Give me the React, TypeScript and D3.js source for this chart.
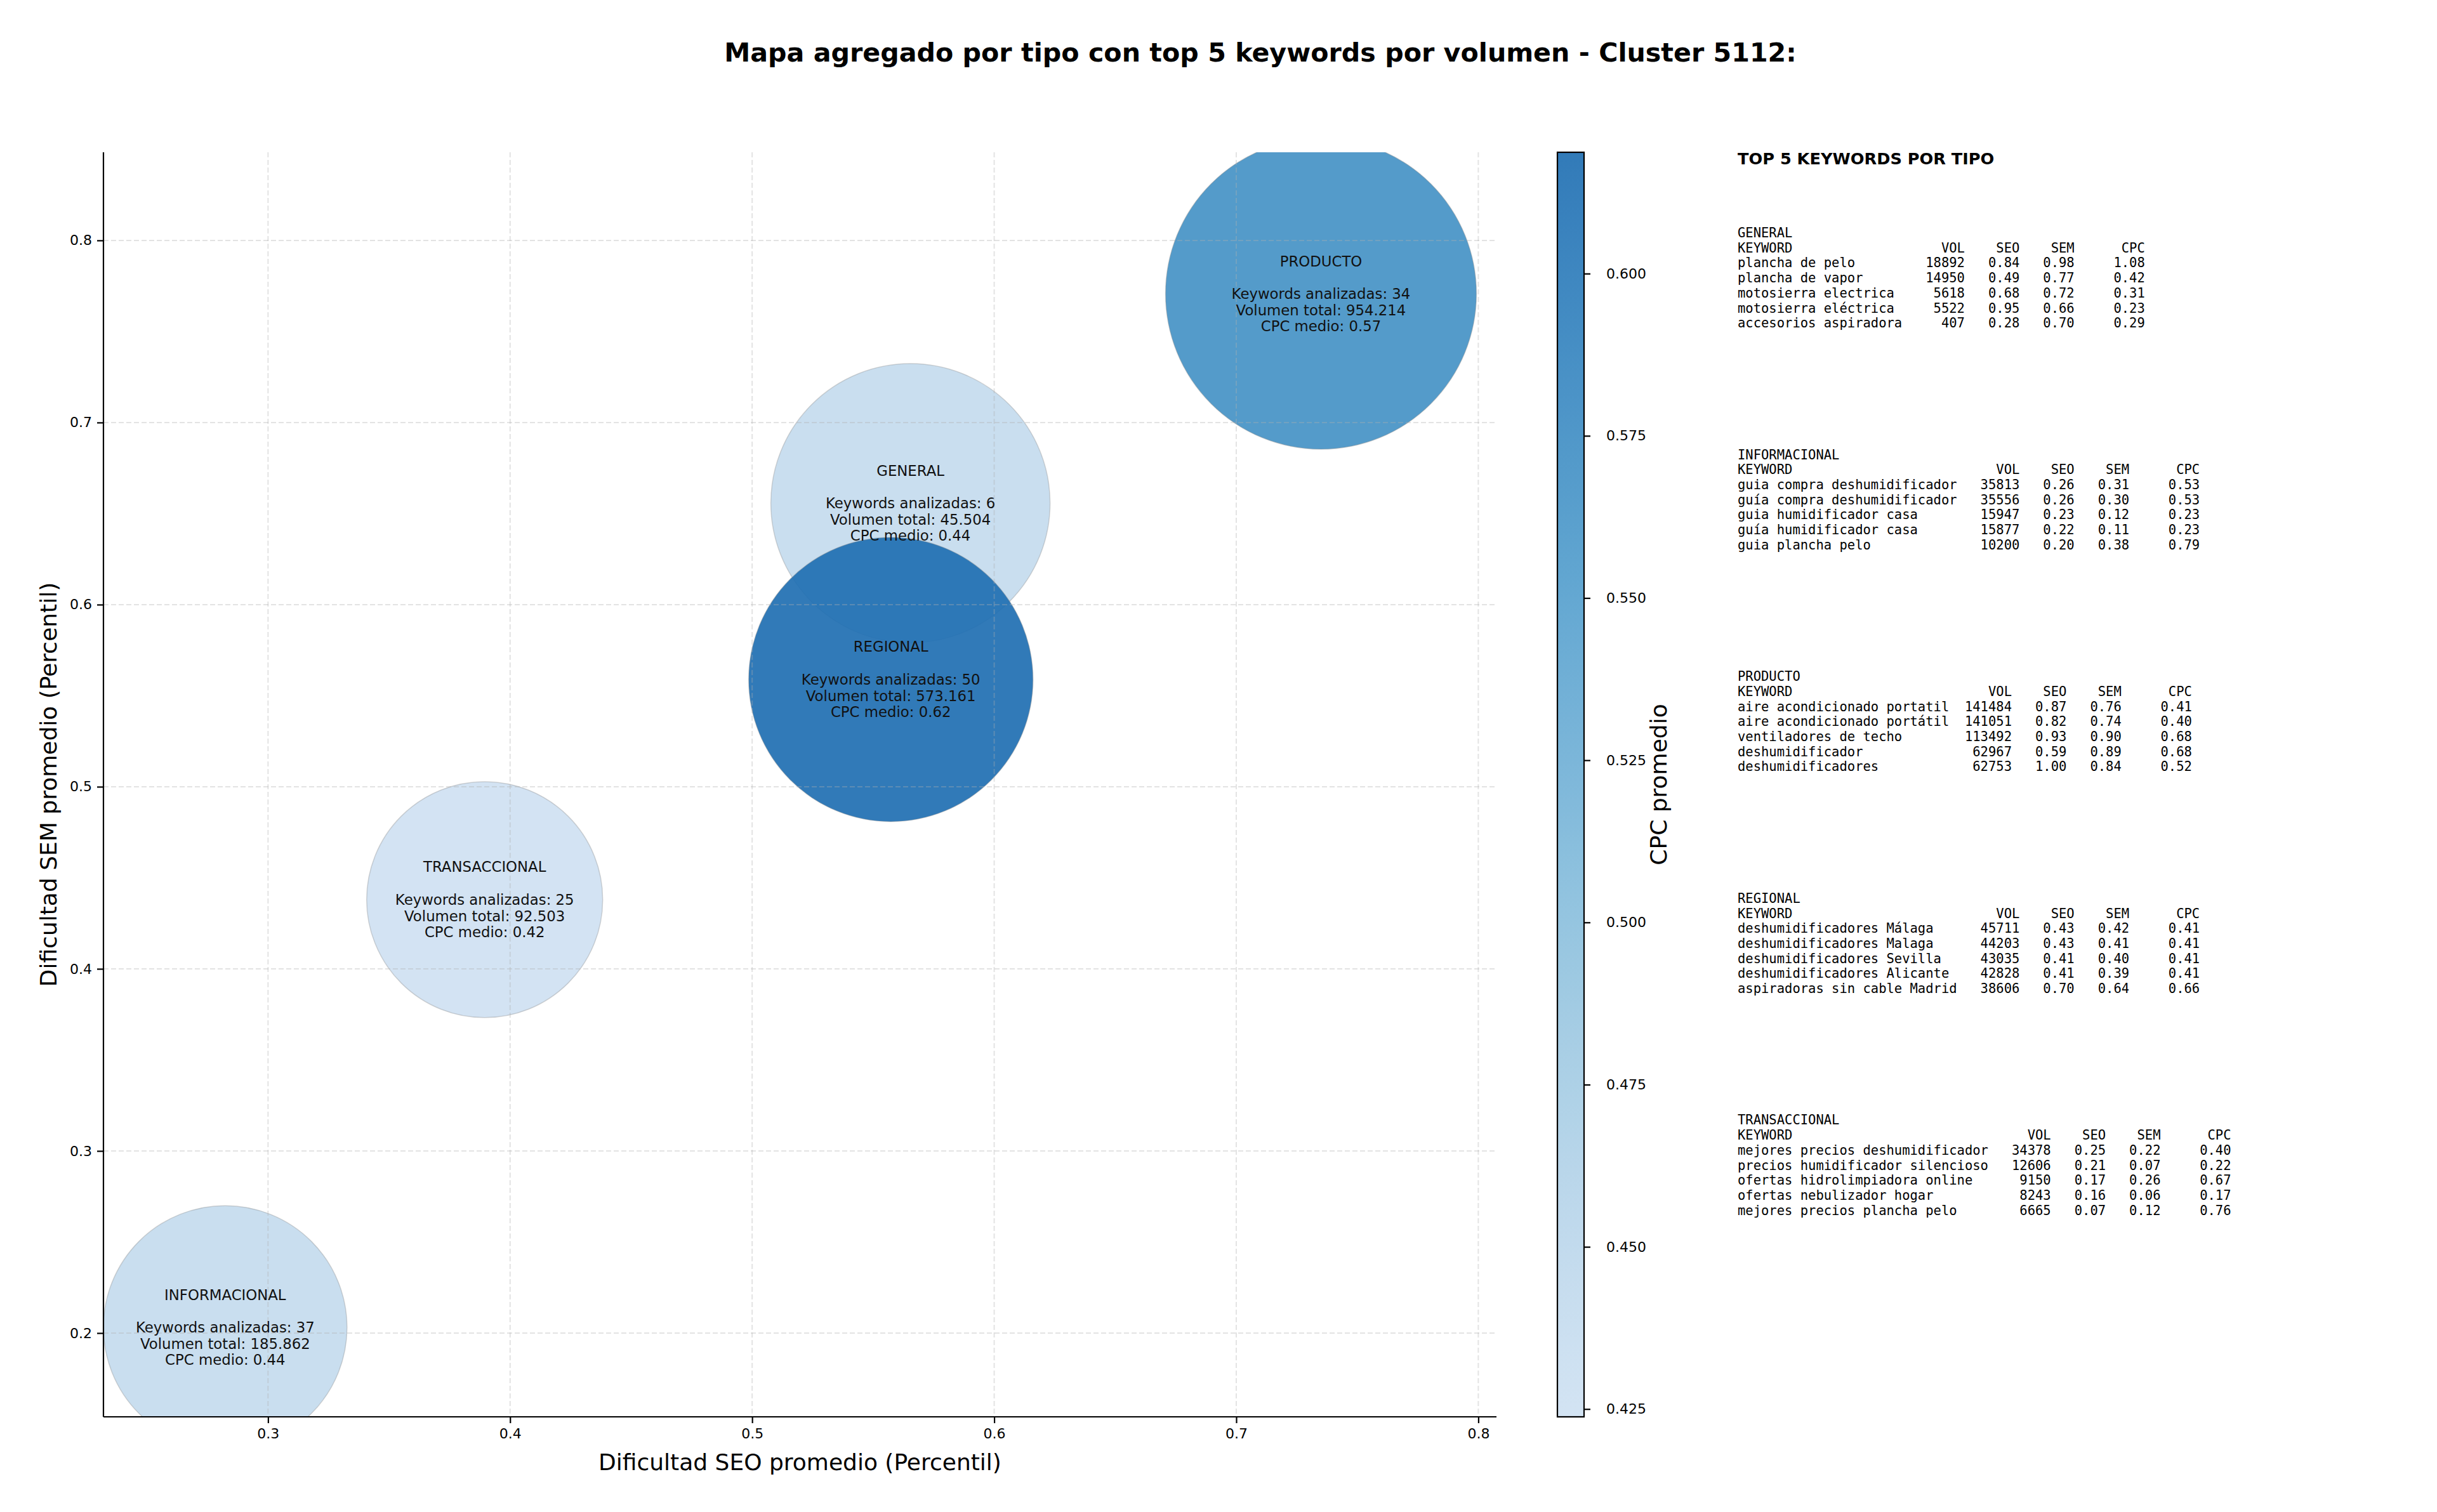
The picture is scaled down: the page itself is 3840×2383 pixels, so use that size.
import React, { useEffect, useRef } from 'react';
import * as d3 from 'd3';

// Aggregated values per keyword type
const types = ['GENERAL', 'INFORMACIONAL', 'PRODUCTO', 'REGIONAL', 'TRANSACCIONAL'];
const avgSeo = [0.5654, 0.2823, 0.735, 0.5573, 0.3895];
const avgSem = [0.6557, 0.2031, 0.7707, 0.5589, 0.438];
const avgCpc = [0.44, 0.44, 0.57, 0.6187, 0.4238];
const keywordCount = [6, 37, 34, 50, 25];
const totalVolume = [45504, 185862, 954214, 573161, 92503];
const bubbleSize = [25090, 19100, 31100, 26010, 17930];

const xTicks = [0.3, 0.4, 0.5, 0.6, 0.7, 0.8];
const yTicks = [0.2, 0.3, 0.4, 0.5, 0.6, 0.7, 0.8];
const cbTicks = [0.425, 0.45, 0.475, 0.5, 0.525, 0.55, 0.575, 0.6];

// Top 5 keywords per type: keyword, volume, seo, sem, cpc
const generalTop = [
  ['plancha de pelo', 18892, 0.84, 0.98, 1.08],
  ['plancha de vapor', 14950, 0.49, 0.77, 0.42],
  ['motosierra electrica', 5618, 0.68, 0.72, 0.31],
  ['motosierra eléctrica', 5522, 0.95, 0.66, 0.23],
  ['accesorios aspiradora', 407, 0.28, 0.70, 0.29],
];
const informacionalTop = [
  ['guia compra deshumidificador', 35813, 0.26, 0.31, 0.53],
  ['guía compra deshumidificador', 35556, 0.26, 0.30, 0.53],
  ['guia humidificador casa', 15947, 0.23, 0.12, 0.23],
  ['guía humidificador casa', 15877, 0.22, 0.11, 0.23],
  ['guia plancha pelo', 10200, 0.20, 0.38, 0.79],
];
const productoTop = [
  ['aire acondicionado portatil', 141484, 0.87, 0.76, 0.41],
  ['aire acondicionado portátil', 141051, 0.82, 0.74, 0.40],
  ['ventiladores de techo', 113492, 0.93, 0.90, 0.68],
  ['deshumidificador', 62967, 0.59, 0.89, 0.68],
  ['deshumidificadores', 62753, 1.00, 0.84, 0.52],
];
const regionalTop = [
  ['deshumidificadores Málaga', 45711, 0.43, 0.42, 0.41],
  ['deshumidificadores Malaga', 44203, 0.43, 0.41, 0.41],
  ['deshumidificadores Sevilla', 43035, 0.41, 0.40, 0.41],
  ['deshumidificadores Alicante', 42828, 0.41, 0.39, 0.41],
  ['aspiradoras sin cable Madrid', 38606, 0.70, 0.64, 0.66],
];
const transaccionalTop = [
  ['mejores precios deshumidificador', 34378, 0.25, 0.22, 0.40],
  ['precios humidificador silencioso', 12606, 0.21, 0.07, 0.22],
  ['ofertas hidrolimpiadora online', 9150, 0.17, 0.26, 0.67],
  ['ofertas nebulizador hogar', 8243, 0.16, 0.06, 0.17],
  ['mejores precios plancha pelo', 6665, 0.07, 0.12, 0.76],
];
const tables = [generalTop, informacionalTop, productoTop, regionalTop, transaccionalTop];

const W = 3840;
const H = 2383;

const App = () => {
  const svgRef = useRef<SVGSVGElement>(null);

  useEffect(() => {
    const svg = d3.select(svgRef.current);
    svg.selectAll('*').remove();

    const sans = 'DejaVu Sans, sans-serif';
    const mono = 'DejaVu Sans Mono, monospace';
    const plot = { left: 163, right: 2358, top: 240, bottom: 2233 };

    const x = d3.scaleLinear().domain([0.232, 0.8075]).range([plot.left, plot.right]);
    const y = d3.scaleLinear().domain([0.154, 0.8484]).range([plot.bottom, plot.top]);
    const r = d3.scaleSqrt().domain([0, 1]).range([0, 1.3889]);

    const cpcExtent = d3.extent(avgCpc) as [number, number];
    const colorT = d3.scaleLinear().domain(cpcExtent).range([0.2, 0.76]);
    const color = (v: number) => d3.interpolateBlues(colorT(v));

    const defs = svg.append('defs');
    defs.append('clipPath').attr('id', 'plotClip')
      .append('rect')
      .attr('x', plot.left).attr('y', plot.top)
      .attr('width', plot.right - plot.left).attr('height', plot.bottom - plot.top);

    // Title
    svg.append('text')
      .attr('x', 1986).attr('y', 83)
      .attr('text-anchor', 'middle').attr('dominant-baseline', 'central')
      .style('font-family', sans).style('font-size', '41.2px').style('font-weight', 'bold')
      .text('Mapa agregado por tipo con top 5 keywords por volumen - Cluster 5112:');

    // Bubbles
    const data = types.map((t, i) => ({ t, i }));
    svg.append('g').attr('clip-path', 'url(#plotClip)')
      .selectAll('circle')
      .data(data)
      .enter().append('circle')
      .attr('cx', d => x(avgSeo[d.i]))
      .attr('cy', d => y(avgSem[d.i]))
      .attr('r', d => r(bubbleSize[d.i]))
      .attr('fill', d => color(avgCpc[d.i]))
      .attr('fill-opacity', 0.92)
      .attr('stroke', '#8a8a8a')
      .attr('stroke-opacity', 0.35)
      .attr('stroke-width', 1.5);

    // Grid
    const grid = svg.append('g')
      .attr('stroke', '#b0b0b0').attr('stroke-opacity', 0.35)
      .attr('stroke-width', 2).attr('stroke-dasharray', '8,4');
    xTicks.forEach(v => {
      grid.append('line').attr('x1', x(v)).attr('x2', x(v)).attr('y1', plot.top).attr('y2', plot.bottom);
    });
    yTicks.forEach(v => {
      grid.append('line').attr('x1', plot.left).attr('x2', plot.right).attr('y1', y(v)).attr('y2', y(v));
    });

    // Bubble labels
    const fmtVol = (n: number) => d3.format(',')(n).replace(/,/g, '.');
    const lh = 25.7;
    data.forEach(d => {
      const lines = [
        d.t,
        '',
        `Keywords analizadas: ${keywordCount[d.i]}`,
        `Volumen total: ${fmtVol(totalVolume[d.i])}`,
        `CPC medio: ${avgCpc[d.i].toFixed(2)}`,
      ];
      const cx = x(avgSeo[d.i]);
      const cy = y(avgSem[d.i]);
      lines.forEach((line, k) => {
        if (!line) return;
        svg.append('text')
          .attr('x', cx).attr('y', cy + (k - 2) * lh)
          .attr('text-anchor', 'middle').attr('dominant-baseline', 'central')
          .style('font-family', sans).style('font-size', '22.8px').attr('fill', '#111')
          .text(line);
      });
    });

    // Axes (left and bottom spines)
    const xAxis = svg.append('g')
      .attr('transform', `translate(0,${plot.bottom})`)
      .call(d3.axisBottom(x).tickValues(xTicks).tickSize(10).tickPadding(8).tickFormat(d3.format('.1f')));
    const yAxis = svg.append('g')
      .attr('transform', `translate(${plot.left},0)`)
      .call(d3.axisLeft(y).tickValues(yTicks).tickSize(10).tickPadding(8).tickFormat(d3.format('.1f')));
    [xAxis, yAxis].forEach(a => {
      a.select('.domain').remove();
      a.selectAll('line').attr('stroke', '#000').attr('stroke-width', 2.2);
      a.selectAll('text').style('font-family', sans).style('font-size', '22px').attr('fill', '#000');
    });
    svg.append('line').attr('x1', plot.left).attr('x2', plot.right)
      .attr('y1', plot.bottom).attr('y2', plot.bottom).attr('stroke', '#000').attr('stroke-width', 2.2);
    svg.append('line').attr('x1', plot.left).attr('x2', plot.left)
      .attr('y1', plot.top).attr('y2', plot.bottom).attr('stroke', '#000').attr('stroke-width', 2.2);

    svg.append('text')
      .attr('x', (plot.left + plot.right) / 2).attr('y', 2304)
      .attr('text-anchor', 'middle').attr('dominant-baseline', 'central')
      .style('font-family', sans).style('font-size', '36px')
      .text('Dificultad SEO promedio (Percentil)');
    svg.append('text')
      .attr('transform', `translate(76,${(plot.top + plot.bottom) / 2}) rotate(-90)`)
      .attr('text-anchor', 'middle').attr('dominant-baseline', 'central')
      .style('font-family', sans).style('font-size', '36px')
      .text('Dificultad SEM promedio (Percentil)');

    // Colorbar
    const cb = { x: 2454, w: 42 };
    const cbScale = d3.scaleLinear().domain(cpcExtent).range([plot.bottom, plot.top]);
    const grad = defs.append('linearGradient').attr('id', 'cbGrad')
      .attr('x1', 0).attr('y1', 1).attr('x2', 0).attr('y2', 0);
    d3.range(0, 1.0001, 0.05).forEach(p => {
      grad.append('stop').attr('offset', p)
        .attr('stop-color', color(cpcExtent[0] + p * (cpcExtent[1] - cpcExtent[0])))
        .attr('stop-opacity', 0.92);
    });
    svg.append('rect')
      .attr('x', cb.x).attr('y', plot.top).attr('width', cb.w).attr('height', plot.bottom - plot.top)
      .attr('fill', 'url(#cbGrad)').attr('stroke', '#000').attr('stroke-width', 2.2);
    const cbAxis = svg.append('g')
      .attr('transform', `translate(${cb.x + cb.w},0)`)
      .call(d3.axisRight(cbScale).tickValues(cbTicks).tickSize(10).tickPadding(25).tickFormat(d3.format('.3f')));
    cbAxis.select('.domain').remove();
    cbAxis.selectAll('line').attr('stroke', '#000').attr('stroke-width', 2.2);
    cbAxis.selectAll('text').style('font-family', sans).style('font-size', '22px').attr('fill', '#000');
    svg.append('text')
      .attr('transform', `translate(2613,${(plot.top + plot.bottom) / 2}) rotate(-90)`)
      .attr('text-anchor', 'middle').attr('dominant-baseline', 'central')
      .style('font-family', sans).style('font-size', '36px')
      .text('CPC promedio');

    // Right panel: top keywords
    const px = 2738;
    svg.append('text')
      .attr('x', px).attr('y', 250).attr('dominant-baseline', 'central')
      .style('font-family', sans).style('font-size', '25.6px').style('font-weight', 'bold')
      .text('TOP 5 KEYWORDS POR TIPO');

    const sectionStep = 349.6;
    const lineStep = 23.7;
    types.forEach((t, i) => {
      const rows = tables[i];
      const maxLen = d3.max(rows, row => (row[0] as string).length) as number;
      const lines = [
        t,
        'KEYWORD'.padEnd(maxLen) + 'VOL'.padStart(8) + 'SEO'.padStart(7) + 'SEM'.padStart(7) + 'CPC'.padStart(9),
        ...rows.map(row =>
          (row[0] as string).padEnd(maxLen) +
          String(row[1]).padStart(8) +
          (row[2] as number).toFixed(2).padStart(7) +
          (row[3] as number).toFixed(2).padStart(7) +
          (row[4] as number).toFixed(2).padStart(9)
        ),
      ];
      const y0 = 367 + i * sectionStep;
      lines.forEach((line, k) => {
        svg.append('text')
          .attr('x', px).attr('y', y0 + k * lineStep).attr('dominant-baseline', 'central')
          .style('font-family', mono).style('font-size', '20.5px').style('white-space', 'pre')
          .text(line);
      });
    });
  }, []);

  return (
    <svg ref={svgRef} width={W} height={H}
      style={{ position: 'absolute', left: 0, top: 0, background: '#fff' }} />
  );
};

export default App;
